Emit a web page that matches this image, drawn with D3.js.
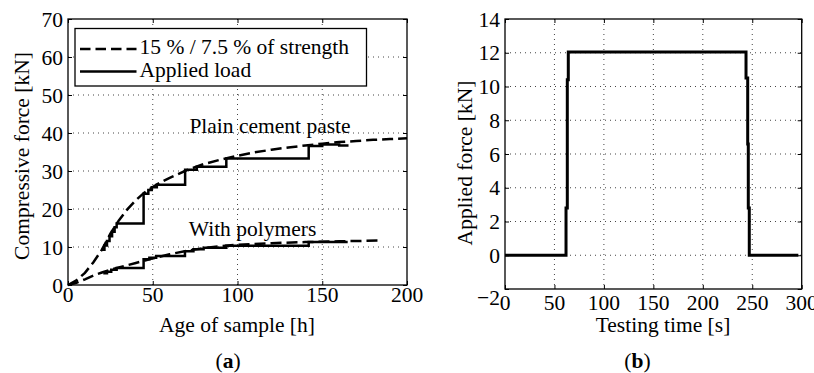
<!DOCTYPE html>
<html>
<head>
<meta charset="utf-8">
<script src="https://cdn.jsdelivr.net/npm/d3@7"></script>
<style>
  html, body { margin: 0; padding: 0; background: #fff; }
  svg { display: block; }
</style>
</head>
<body>
<svg id="fig" width="814" height="373"></svg>
<script>
// ---- Panel (a): compressive force vs. age of sample ----
// Target load curves (15 % / 7.5 % of strength), age in hours, force in kN
const plainTargetAge   = [0, 5, 10, 15, 20, 25, 30, 35, 40, 45, 50, 55, 60, 70, 80, 90, 100, 110, 120, 130, 140, 150, 160, 170, 180, 190, 200];
const plainTargetForce = [0, 1.2, 3.2, 6, 9.3, 13.5, 17, 19.9, 22.3, 24.3, 25.8, 27.1, 28.2, 30.2, 31.8, 33, 34, 34.9, 35.6, 36.2, 36.7, 37.2, 37.6, 37.9, 38.2, 38.4, 38.6];
const polyTargetAge    = [0, 5, 10, 15, 20, 25, 30, 40, 50, 60, 70, 80, 90, 100, 120, 140, 160, 185];
const polyTargetForce  = [0, 0.6, 1.5, 2.5, 3.3, 4, 4.6, 5.8, 7, 8.1, 9, 9.7, 10.2, 10.6, 11, 11.3, 11.5, 11.7];

// Applied load (stepwise), age in hours, force in kN
const plainLoadAge   = [20, 21.5, 21.5, 23, 23, 24.5, 24.5, 26, 26, 27.5, 27.5, 28.7, 28.7, 44.6, 44.6, 47.4, 47.4, 49.4, 49.4, 52.4, 52.4, 69.1, 69.1, 76, 76, 93.4, 93.4, 142, 142, 150, 150, 160, 160, 165.5];
const plainLoadForce = [9.3, 9.3, 10.4, 10.4, 11.6, 11.6, 12.8, 12.8, 14, 14, 15.2, 15.2, 16.2, 16.2, 24, 24, 25, 25, 25.7, 25.7, 26.4, 26.4, 30.3, 30.3, 31.1, 31.1, 33.3, 33.3, 36.6, 36.6, 37, 37, 36.7, 36.7];
const polyLoadAge    = [20.8, 23, 23, 25.5, 25.5, 28.7, 28.7, 44.6, 44.6, 48, 48, 52, 52, 69, 69, 74, 74, 80, 80, 93.4, 93.4, 142, 142, 165];
const polyLoadForce  = [3.1, 3.1, 3.5, 3.5, 4, 4, 4.5, 4.5, 6.8, 6.8, 7.2, 7.2, 7.6, 7.6, 8.9, 8.9, 9.4, 9.4, 9.8, 9.8, 10.3, 10.3, 11.3, 11.3];

const ageTicks   = [0, 50, 100, 150, 200];
const forceTicks = [0, 10, 20, 30, 40, 50, 60, 70];

// ---- Panel (b): applied force vs. testing time ----
const testTime  = [0, 61.7, 61.7, 63.0, 63.0, 64.0, 64.0, 243.7, 243.7, 245.4, 245.4, 246.0, 246.0, 247.0, 247.0, 296.6];
const testForce = [0, 0, 2.8, 2.8, 10.4, 10.4, 12.05, 12.05, 10.5, 10.5, 6.6, 6.6, 2.8, 2.8, 0, 0];

const timeTicks    = [0, 50, 100, 150, 200, 250, 300];
const appliedTicks = [-2, 0, 2, 4, 6, 8, 10, 12, 14];

const SERIF = "'Liberation Serif', Tinos, 'Times New Roman', Times, 'Nimbus Roman', 'DejaVu Serif', serif";
const FONT = 21.5;

const svg = d3.select("#fig")
  .style("font-family", SERIF)
  .attr("font-family", SERIF);

function zip(xs, ys) { return xs.map((x, i) => [x, ys[i]]); }

function label(g, x, y, str, anchor) {
  return g.append("text").attr("x", x).attr("y", y)
    .attr("text-anchor", anchor || "start")
    .attr("font-family", SERIF).style("font-family", SERIF)
    .attr("font-size", FONT).attr("fill", "#000").text(str);
}

// Draws a boxed axes with dotted grid and inward ticks on all sides
function drawAxes(g, x, y, xt, yt, opts) {
  const [x0, x1] = x.range();
  const [y0, y1] = y.range(); // y0 bottom, y1 top

  // dotted grid
  const grid = g.append("g").attr("stroke", "#444").attr("stroke-width", 1)
    .attr("stroke-dasharray", "1,4");
  xt.filter(v => x(v) > x0 + 1 && x(v) < x1 - 1).forEach(v => {
    grid.append("line").attr("x1", x(v)).attr("x2", x(v)).attr("y1", y1).attr("y2", y0);
  });
  yt.filter(v => y(v) < y0 - 1 && y(v) > y1 + 1).forEach(v => {
    grid.append("line").attr("y1", y(v)).attr("y2", y(v)).attr("x1", x0).attr("x2", x1);
  });

  const tl = 4;
  g.append("g").attr("transform", `translate(0,${y0})`)
    .call(d3.axisBottom(x).tickValues(xt).tickSizeInner(-tl).tickSizeOuter(0).tickFormat(""));
  g.append("g").attr("transform", `translate(0,${y1})`)
    .call(d3.axisTop(x).tickValues(xt).tickSizeInner(-tl).tickSizeOuter(0).tickFormat(""));
  g.append("g").attr("transform", `translate(${x0},0)`)
    .call(d3.axisLeft(y).tickValues(yt).tickSizeInner(-tl).tickSizeOuter(0).tickFormat(""));
  g.append("g").attr("transform", `translate(${x1},0)`)
    .call(d3.axisRight(y).tickValues(yt).tickSizeInner(-tl).tickSizeOuter(0).tickFormat(""));
  g.selectAll(".domain").remove();
  g.selectAll(".tick line").attr("stroke", "#000").attr("stroke-width", 1);

  g.append("rect").attr("x", x0).attr("y", y1).attr("width", x1 - x0).attr("height", y0 - y1)
    .attr("fill", "none").attr("stroke", "#000").attr("stroke-width", 1.3);

  xt.forEach(v => label(g, x(v), opts.xTickBase, v, "middle"));
  yt.forEach(v => {
    const shift = (opts.yLabelShift && opts.yLabelShift[v]) || 0;
    label(g, x0 - 5, y(v) + 7.5 + shift, v < 0 ? "\u2212" + Math.abs(v) : String(v), "end");
  });
}

// ===== Panel (a) =====
const xA = d3.scaleLinear().domain([0, 200]).range([68, 407]);
const yA = d3.scaleLinear().domain([0, 70]).range([285, 19]);
const gA = svg.append("g");
drawAxes(gA, xA, yA, ageTicks, forceTicks, { xTickBase: 302 });

const lineA = d3.line().x(d => xA(d[0])).y(d => yA(d[1]));

[[plainTargetAge, plainTargetForce], [polyTargetAge, polyTargetForce]].forEach(([a, f]) => {
  gA.append("path").attr("d", lineA(zip(a, f))).attr("fill", "none")
    .attr("stroke", "#000").attr("stroke-width", 2.5).attr("stroke-dasharray", "11,5");
});
[[plainLoadAge, plainLoadForce], [polyLoadAge, polyLoadForce]].forEach(([a, f]) => {
  gA.append("path").attr("d", lineA(zip(a, f))).attr("fill", "none")
    .attr("stroke", "#000").attr("stroke-width", 2.5).attr("stroke-linejoin", "miter");
});

label(gA, 270, 133, "Plain cement paste", "middle");
label(gA, 252.5, 235.5, "With polymers", "middle");

// legend
const leg = gA.append("g");
leg.append("rect").attr("x", 75).attr("y", 28.5).attr("width", 291.5).attr("height", 57.5)
  .attr("fill", "#fff").attr("stroke", "#000").attr("stroke-width", 1.3);
leg.append("line").attr("x1", 80).attr("x2", 136.5).attr("y1", 49).attr("y2", 49)
  .attr("stroke", "#000").attr("stroke-width", 2.5).attr("stroke-dasharray", "10.5,5");
leg.append("line").attr("x1", 80).attr("x2", 136.5).attr("y1", 71.5).attr("y2", 71.5)
  .attr("stroke", "#000").attr("stroke-width", 2.5);
label(leg, 139.5, 53.5, "15 % / 7.5 % of strength");
label(leg, 139.5, 77, "Applied load");

label(gA, 237, 331.5, "Age of sample [h]", "middle");
label(gA, 0, 0, "Compressive force [kN]", "middle").attr("transform", "translate(29,156) rotate(-90)");
const capA = label(gA, 228, 367.5, "", "middle");
capA.append("tspan").text("(");
capA.append("tspan").attr("font-weight", "bold").text("a");
capA.append("tspan").text(")");

// ===== Panel (b) =====
const xB = d3.scaleLinear().domain([0, 300]).range([505, 801.7]);
const yB = d3.scaleLinear().domain([-2, 14]).range([289, 19]);
const gB = svg.append("g");
drawAxes(gB, xB, yB, timeTicks, appliedTicks, { xTickBase: 310, yLabelShift: { "-2": 8 } });

const lineB = d3.line().x(d => xB(d[0])).y(d => yB(d[1]));
gB.append("path").attr("d", lineB(zip(testTime, testForce))).attr("fill", "none")
  .attr("stroke", "#000").attr("stroke-width", 3).attr("stroke-linejoin", "miter");

label(gB, 663, 331.5, "Testing time [s]", "middle");
label(gB, 0, 0, "Applied force [kN]", "middle").attr("transform", "translate(472,163) rotate(-90)");
const capB = label(gB, 637.5, 367.5, "", "middle");
capB.append("tspan").text("(");
capB.append("tspan").attr("font-weight", "bold").text("b");
capB.append("tspan").text(")");
</script>
</body>
</html>
